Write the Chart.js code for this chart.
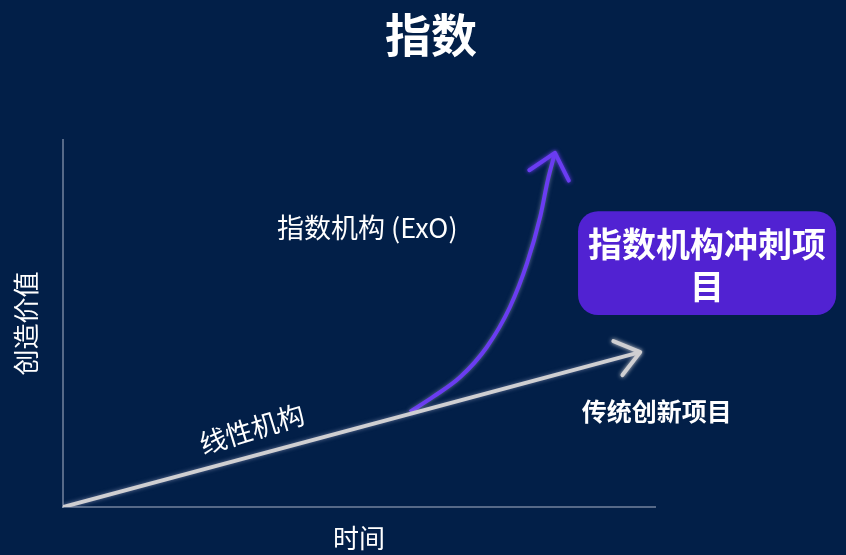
<!DOCTYPE html>
<html>
<head>
<meta charset="utf-8">
<script src="https://cdn.jsdelivr.net/npm/chart.js@4"></script>
<style>
  html, body { margin: 0; padding: 0; background: #021f48; }
  #wrap { width: 846px; height: 555px; }
</style>
</head>
<body>
<div id="wrap"><canvas id="myChart"></canvas></div>
<script>
// data (x = time, y = value, both 0..100)
const linearX = [0, 97.5];
const linearY = [0, 42.2];
const expoX = [58.6, 62.5, 67.1, 71.6, 75.5, 78.4, 80.6, 81.9, 83.1];
const expoY = [25.9, 30.0, 35.4, 43.6, 54.5, 66.5, 79.0, 89.1, 96.5];
const titleText = "指数";
const xTitle = "时间";
const yTitle = "创造价值";
const labelExo = "指数机构 (ExO)";
const labelLinear = "线性机构";
const labelTrad = "传统创新项目";
const boxLines = ["指数机构冲刺项", "目"];

const FONT = "'Noto Sans CJK SC', 'Noto Sans', sans-serif";

const toPts = (xs, ys) => xs.map((x, i) => ({x: x, y: ys[i]}));

// chevron at the end of a line
drawArrow = (ctx, meta, color, len, spread) => {
    const pts = meta.data;
    const a = pts[pts.length - 1], b = pts[pts.length - 2];
    const ang = Math.atan2(a.y - b.y, a.x - b.x);
    ctx.save();
    ctx.strokeStyle = color;
    ctx.lineWidth = 4;
    ctx.lineCap = "round";
    ctx.lineJoin = "round";
    ctx.shadowColor = color;
    ctx.shadowBlur = 4;
    ctx.beginPath();
    ctx.moveTo(a.x - len * Math.cos(ang - spread), a.y - len * Math.sin(ang - spread));
    ctx.lineTo(a.x, a.y);
    ctx.lineTo(a.x - len * Math.cos(ang + spread), a.y - len * Math.sin(ang + spread));
    ctx.stroke();
    ctx.restore();
}

const extras = {
    id: "extras",
    beforeDatasetsDraw(chart) {
        chart.ctx.save();
        chart.ctx.shadowColor = "rgba(200,200,230,0.5)";
        chart.ctx.shadowBlur = 4;
    },
    afterDatasetsDraw(chart) {
        const ctx = chart.ctx;
        ctx.restore();
        const xs = chart.scales.x, ys = chart.scales.y;
        const px = v => xs.getPixelForValue(v);
        const py = v => ys.getPixelForValue(v);

        drawArrow(ctx, chart.getDatasetMeta(0), "#cfcfd2", 29, 0.65);
        drawArrow(ctx, chart.getDatasetMeta(1), "#6a3cf2", 31, 0.72);

        ctx.save();
        ctx.fillStyle = "#ffffff";
        ctx.textAlign = "center";
        ctx.textBaseline = "middle";

        // title, a bit right of the canvas middle as in the slide
        ctx.font = "bold 46px " + FONT;
        ctx.fillText(titleText, chart.width / 2 + 8, 35);

        ctx.font = "27px " + FONT;
        ctx.fillText(labelExo, px(51.4), py(76.0));

        ctx.save();
        ctx.translate(px(31.9), py(21.3));
        ctx.rotate(-17 * Math.PI / 180);
        ctx.font = "27px " + FONT;
        ctx.fillText(labelLinear, 0, 0);
        ctx.restore();

        ctx.font = "bold 25px " + FONT;
        ctx.fillText(labelTrad, px(100.3), py(25.9));

        // purple box
        const bx = px(87), bw = px(130.6) - px(87);
        const by = py(80.6), bh = py(52.3) - py(80.6);
        ctx.fillStyle = "#5122d2";
        ctx.beginPath();
        ctx.roundRect(bx, by, bw, bh, 20);
        ctx.fill();
        ctx.fillStyle = "#ffffff";
        ctx.font = "bold 34px " + FONT;
        ctx.fillText(boxLines[0], bx + bw / 2, by + bh / 2 - 19);
        ctx.fillText(boxLines[1], bx + bw / 2, by + bh / 2 + 23);
        ctx.restore();
    }
};

const ctx = document.getElementById("myChart").getContext("2d");
const myChart = new Chart(ctx, {
    type: "scatter",
    data: {
        datasets: [{
            data: toPts(linearX, linearY),
            showLine: true,
            borderColor: "#cfcfd2",
            borderWidth: 4,
            pointRadius: 0
        }, {
            data: toPts(expoX, expoY),
            showLine: true,
            borderColor: "#6a3cf2",
            borderWidth: 4,
            pointRadius: 0,
            cubicInterpolationMode: "monotone"
        }]
    },
    options: {
        responsive: true,
        maintainAspectRatio: false,
        animation: false,
        layout: { padding: { top: 140, right: 191 } },
        plugins: {
            legend: { display: false },
            tooltip: { enabled: false },
            title: { display: false }
        },
        scales: {
            x: {
                type: "linear",
                min: 0,
                max: 100,
                ticks: { display: false },
                grid: { display: false },
                border: { display: true, color: "rgba(170,180,200,0.5)", width: 2, dash: [1, 2] },
                title: {
                    display: true,
                    text: xTitle,
                    color: "#ffffff",
                    font: { family: FONT, size: 26 },
                    padding: { top: 0, bottom: 1 }
                },
                afterFit: (scale) => { scale.height = 48; }
            },
            y: {
                type: "linear",
                min: 0,
                max: 100,
                ticks: { display: false },
                grid: { display: false },
                border: { display: true, color: "rgba(170,180,200,0.5)", width: 2, dash: [1, 2] },
                title: {
                    display: true,
                    text: yTitle,
                    color: "#ffffff",
                    font: { family: FONT, size: 26 },
                    padding: { top: 11, bottom: 0 }
                },
                afterFit: (scale) => { scale.width = 63; }
            }
        }
    },
    plugins: [extras]
});
</script>
</body>
</html>
